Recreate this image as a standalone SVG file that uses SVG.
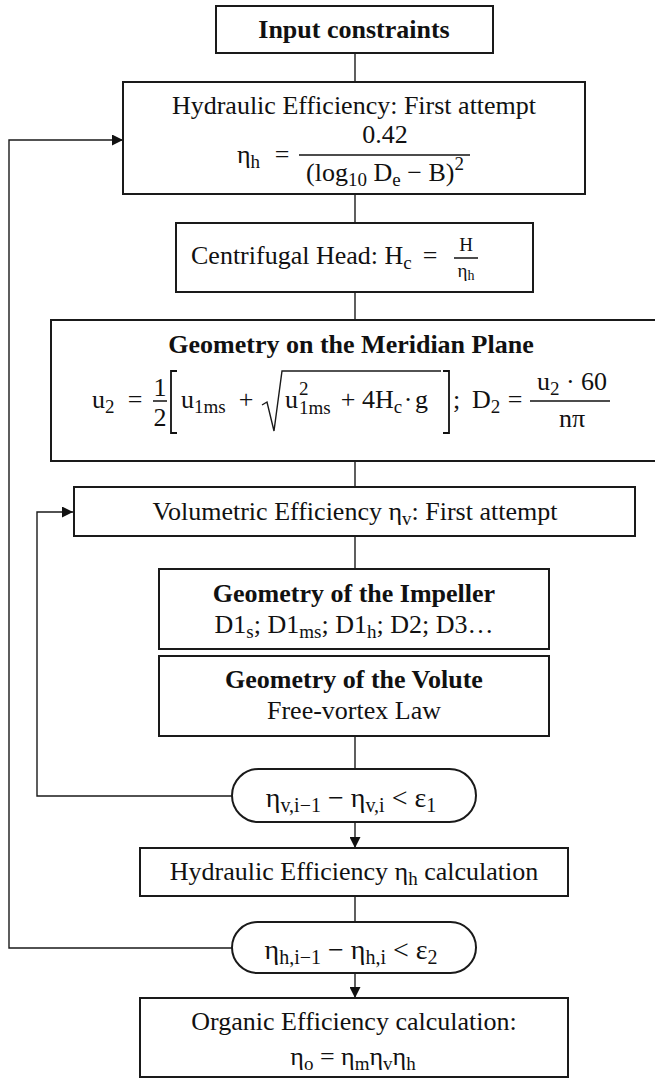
<svg xmlns="http://www.w3.org/2000/svg" width="655" height="1078" viewBox="0 0 655 1078">
<style>
text{font-family:"Liberation Serif","Times New Roman",serif;font-size:26px;fill:#111}
.b{font-weight:bold}
.m{text-anchor:middle}
.s{font-size:19px}
.t{font-size:14px}
.o{font-size:28px}
.os{font-size:20px}
.box{fill:#fff;stroke:#1a1a1a;stroke-width:2}
.ln{fill:none;stroke:#1a1a1a;stroke-width:1.4}
.br{fill:none;stroke:#111;stroke-width:1.8}
.fr{stroke:#111;stroke-width:1.5}
</style>
<defs>
<marker id="ah" viewBox="0 0 10 10" refX="10" refY="5" markerWidth="12" markerHeight="11" markerUnits="userSpaceOnUse" orient="auto">
<path d="M0,0 L10,5 L0,10 z" fill="#111"/>
</marker>
</defs>
<rect width="655" height="1078" fill="#fff"/>

<g id="connectors">
<path class="ln" d="M355,53 V82"/>
<path class="ln" d="M355,194 V223"/>
<path class="ln" d="M355,292 V320"/>
<path class="ln" d="M355,461 V487"/>
<path class="ln" d="M355,536 V569"/>
<path class="ln" d="M355,736 V769"/>
<path class="ln" d="M355,822 V848" marker-end="url(#ah)"/>
<path class="ln" d="M355,896 V922"/>
<path class="ln" d="M355,973 V998" marker-end="url(#ah)"/>
<path class="ln" d="M232,796 H37 V512 H73" marker-end="url(#ah)"/>
<path class="ln" d="M232,948 H9 V140 H123" marker-end="url(#ah)"/>
</g>

<g id="input">
<rect class="box" x="216" y="6" width="277" height="47"/>
<text class="b m" x="354" y="38">Input constraints</text>
</g>

<g id="hydraulic-first">
<rect class="box" x="123" y="82" width="462" height="112"/>
<text class="m" x="354" y="114">Hydraulic Efficiency: First attempt</text>
<text x="237" y="163">η<tspan class="s" dy="5">h</tspan></text>
<text class="m" x="282" y="163">=</text>
<text class="m" x="385" y="143">0.42</text>
<line class="fr" x1="299" y1="155" x2="470" y2="155"/>
<text class="m" x="385" y="181">(log<tspan class="s" dy="5">10</tspan><tspan dy="-5"> D</tspan><tspan class="s" dy="5">e</tspan><tspan dy="-5"> − B)</tspan><tspan class="s" dy="-11">2</tspan></text>
</g>

<g id="centrifugal">
<rect class="box" x="176" y="223" width="357" height="69"/>
<text x="191" y="264">Centrifugal Head: H<tspan class="s" dy="5">c</tspan></text>
<text class="m" x="430" y="264">=</text>
<text class="m s" x="466" y="251">H</text>
<line class="fr" x1="454" y1="258" x2="478" y2="258"/>
<text class="m s" x="466" y="277">η<tspan class="t" dy="3">h</tspan></text>
</g>

<g id="meridian">
<rect class="box" x="51" y="320" width="610" height="141"/>
<text class="b m" x="351" y="353">Geometry on the Meridian Plane</text>
<text x="92" y="408">u<tspan class="s" dy="5">2</tspan></text>
<text class="m" x="135" y="408">=</text>
<text class="m" x="160" y="396">1</text>
<line class="fr" x1="153" y1="401" x2="167" y2="401"/>
<text class="m" x="160" y="426">2</text>
<path class="br" d="M177,371 H171 V433 H177"/>
<text x="181" y="408">u<tspan class="s" dy="5">1ms</tspan></text>
<text class="m" x="246" y="408">+</text>
<path class="ln" d="M262,405 L267,402 L274,431 L282,371 H441"/>
<text x="285" y="408">u</text>
<text class="s" x="299" y="395">2</text>
<text class="s" x="299" y="414">1ms</text>
<text class="m" x="348" y="408">+</text>
<text x="362" y="408">4H<tspan class="s" dy="5">c</tspan></text>
<text class="m" x="408" y="408">·</text>
<text x="415" y="408">g</text>
<path class="br" d="M443,371 H449 V433 H443"/>
<text x="453" y="408">;</text>
<text x="472" y="408">D<tspan class="s" dy="5">2</tspan></text>
<text class="m" x="515" y="408">=</text>
<text class="m" x="572" y="390">u<tspan class="s" dy="5">2</tspan><tspan dy="-5"> · 60</tspan></text>
<line class="fr" x1="530" y1="401" x2="610" y2="401"/>
<text class="m" x="572" y="427">nπ</text>
</g>

<g id="volumetric">
<rect class="box" x="74" y="487" width="561" height="49"/>
<text class="m" x="355" y="520">Volumetric Efficiency η<tspan class="s" dy="5">v</tspan><tspan dy="-5">: First attempt</tspan></text>
</g>

<g id="impeller">
<rect class="box" x="159" y="569" width="390" height="80"/>
<text class="b m" x="354" y="602">Geometry of the Impeller</text>
<text class="m" x="354" y="633">D1<tspan class="s" dy="5">s</tspan><tspan dy="-5">; D1</tspan><tspan class="s" dy="5">ms</tspan><tspan dy="-5">; D1</tspan><tspan class="s" dy="5">h</tspan><tspan dy="-5">; D2; D3…</tspan></text>
</g>

<g id="volute">
<rect class="box" x="159" y="656" width="390" height="80"/>
<text class="b m" x="354" y="688">Geometry of the Volute</text>
<text class="m" x="354" y="719">Free-vortex Law</text>
</g>

<g id="check-volumetric">
<rect class="box" x="232" y="769" width="244" height="53" rx="26.5" ry="26.5"/>
<text class="m o" x="351" y="807">η<tspan class="os" dy="5">v,i−1</tspan><tspan dy="-5"> − η</tspan><tspan class="os" dy="5">v,i</tspan><tspan dy="-5"> &lt; ε</tspan><tspan class="os" dy="5">1</tspan></text>
</g>

<g id="hydraulic-calc">
<rect class="box" x="140" y="848" width="428" height="48"/>
<text class="m" x="354" y="880">Hydraulic Efficiency η<tspan class="s" dy="5">h</tspan><tspan dy="-5"> calculation</tspan></text>
</g>

<g id="check-hydraulic">
<rect class="box" x="232" y="922" width="244" height="51" rx="25.5" ry="25.5"/>
<text class="m o" x="351" y="959">η<tspan class="os" dy="5">h,i−1</tspan><tspan dy="-5"> − η</tspan><tspan class="os" dy="5">h,i</tspan><tspan dy="-5"> &lt; ε</tspan><tspan class="os" dy="5">2</tspan></text>
</g>

<g id="organic">
<rect class="box" x="140" y="998" width="428" height="79"/>
<text class="m" x="354" y="1030">Organic Efficiency calculation:</text>
<text class="m" x="353" y="1065">η<tspan class="s" dy="5">o</tspan><tspan dy="-5"> = η</tspan><tspan class="s" dy="5">m</tspan><tspan dy="-5">η</tspan><tspan class="s" dy="5">v</tspan><tspan dy="-5">η</tspan><tspan class="s" dy="5">h</tspan></text>
</g>
</svg>
